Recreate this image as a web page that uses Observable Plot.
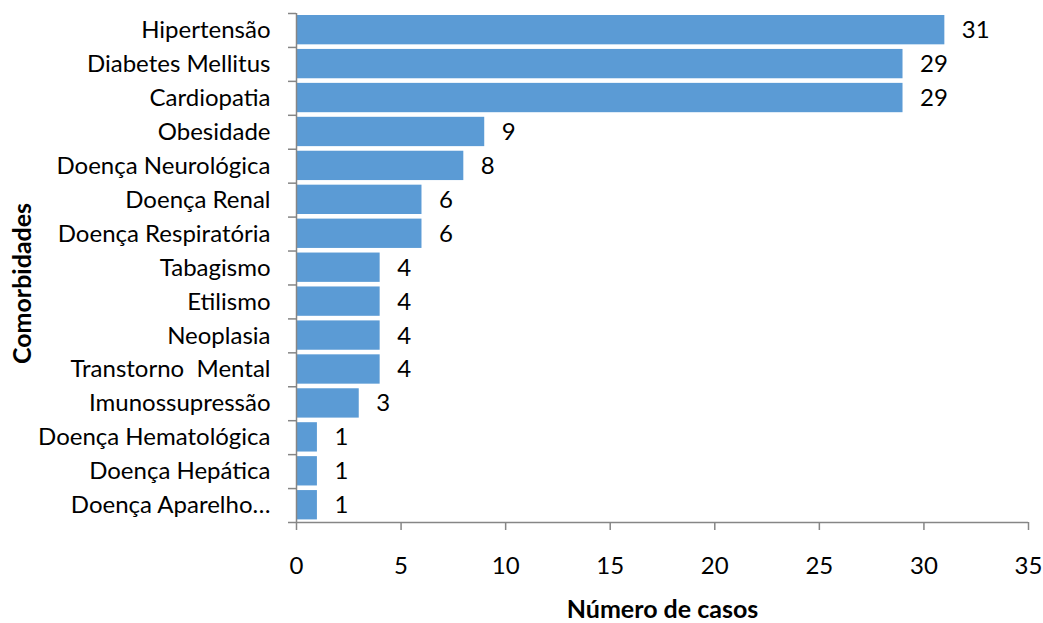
<!DOCTYPE html>
<html>
<head>
<meta charset="utf-8">
<script src="https://cdn.jsdelivr.net/npm/d3@7"></script>
<script src="https://cdn.jsdelivr.net/npm/@observablehq/plot@0.6"></script>
<style>
  html, body { margin: 0; padding: 0; background: #fff; overflow: hidden; }
  #chart svg { display: block; max-width: none; }
  svg text { white-space: pre; }
</style>
</head>
<body>
<div id="chart"></div>
<script>
const categorias = [
  "Hipertensão",
  "Diabetes Mellitus",
  "Cardiopatia",
  "Obesidade",
  "Doença Neurológica",
  "Doença Renal",
  "Doença Respiratória",
  "Tabagismo",
  "Etilismo",
  "Neoplasia",
  "Transtorno  Mental",
  "Imunossupressão",
  "Doença Hematológica",
  "Doença Hepática",
  "Doença Aparelho…"
];
const casos = [31, 29, 29, 9, 8, 6, 6, 4, 4, 4, 4, 3, 1, 1, 1];
const xTicks = [0, 5, 10, 15, 20, 25, 30, 35];
const tituloX = "Número de casos";
const tituloY = "Comorbidades";

const data = categorias.map((c, i) => ({cat: c, casos: casos[i]}));

const W = 1043, H = 623, mT = 13, mB = 101, mL = 296, mR = 15;
const step = (H - mT - mB) / categorias.length;
const axisColor = "#868686";
const last = categorias[categorias.length - 1];

const chart = Plot.plot({
  width: W, height: H,
  marginLeft: mL, marginRight: mR, marginTop: mT, marginBottom: mB,
  style: {fontFamily: "Lato, 'Open Sans', sans-serif", fontSize: "24px", color: "#000", background: "#fff"},
  x: {domain: [0, 35]},
  y: {domain: categorias, padding: 0, round: false},
  marks: [
    Plot.barX(data, {x: "casos", y: "cat", fill: "#5B9BD5", insetTop: 2, insetBottom: 2.6}),
    Plot.text(data, {x: "casos", y: "cat", text: d => String(d.casos), dx: 17, textAnchor: "start", fill: "#000"}),
    Plot.ruleX([0], {stroke: axisColor, strokeWidth: 1.5}),
    Plot.ruleY([last], {y: d => d, dy: step / 2, x1: 0, x2: 35, stroke: axisColor, strokeWidth: 1.5}),
    Plot.axisX({ticks: xTicks, tickSize: 8, stroke: axisColor, strokeWidth: 1.5, fill: "none", label: null}),
    Plot.axisX({ticks: xTicks, tickSize: 0, tickPadding: 34, fill: "#000", stroke: "none", label: null}),
    Plot.axisY({tickSize: 8, dy: -step / 2, stroke: axisColor, strokeWidth: 1.5, fill: "none", label: null}),
    Plot.axisY({ticks: [last], tickSize: 8, dy: step / 2, stroke: axisColor, strokeWidth: 1.5, fill: "none", label: null}),
    Plot.axisY({tickSize: 0, tickPadding: 26, fill: "#000", stroke: "none", label: null, textOverflow: null}),
    Plot.text([tituloX], {frameAnchor: "bottom", textAnchor: "middle", lineAnchor: "middle", dy: 87, fontSize: 25, fontWeight: "bold", fill: "#000"}),
    Plot.text([tituloY], {frameAnchor: "left", textAnchor: "middle", lineAnchor: "middle", rotate: -90, dx: -273.5, dy: 15.5, fontSize: 25, fontWeight: "bold", fill: "#000"})
  ]
});
document.getElementById("chart").appendChild(chart);
</script>
</body>
</html>
